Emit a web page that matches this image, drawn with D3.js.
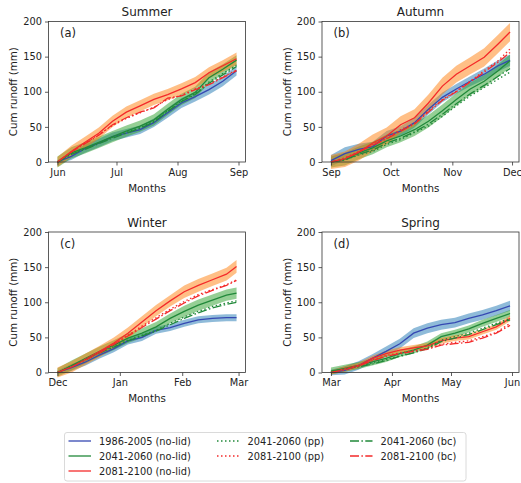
<!DOCTYPE html>
<html>
<head>
<meta charset="utf-8">
<script src="https://d3js.org/d3.v7.min.js"></script>
<style>
body { margin: 0; background: #fff; }
svg { font-family: "DejaVu Sans", sans-serif; }
</style>
</head>
<body>
<svg id="drawing_region" width="521" height="483"></svg>
<script>
// ---- data (cum runoff in mm at sample days) ----
const seasons = ['Summer', 'Autumn', 'Winter', 'Spring'];
const panelLetters = ['(a)', '(b)', '(c)', '(d)'];
const seasonStarts = ['2001-06-01', '2001-09-01', '2001-12-01', '2002-03-01'];
const seriesNames = ['1986-2005 (no-lid)', '2041-2060 (no-lid)', '2081-2100 (no-lid)',
                     '2041-2060 (pp)', '2081-2100 (pp)', '2041-2060 (bc)', '2081-2100 (bc)'];
const yTicks = [0, 50, 100, 150, 200];

const daysSummer = [0, 7, 14, 21, 28, 35, 42, 49, 56, 63, 70, 77, 84, 91];
const daysAutumn = [0, 7, 14, 21, 28, 35, 42, 49, 56, 63, 70, 77, 84, 90];
const daysWinter = [0, 7, 14, 21, 28, 35, 42, 49, 56, 63, 70, 77, 84, 89];
const daysSpring = [0, 7, 14, 21, 28, 35, 42, 49, 56, 63, 70, 77, 84, 91];

// Summer
const sumHist      = [0, 8, 19, 27, 36, 41, 46, 56, 70, 84, 93, 103, 115, 130];
const sumHistSd    = [3, 5, 6, 6, 6, 6, 6, 6, 7, 7, 7, 7, 7, 7];
const sumMid       = [0, 13, 20, 28, 36, 44, 51, 60, 75, 89, 99, 120, 132, 145];
const sumMidSd     = [8, 8, 8, 8, 8, 8, 8, 8, 8, 8, 8, 8, 7, 7];
const sumEnd       = [0, 15, 28, 41, 58, 71, 80, 89, 96, 104, 113, 127, 137, 147];
const sumEndSd     = [7, 8, 8, 8, 8, 8, 8, 8, 8, 8, 8, 8, 8, 9];
const sumMidPp     = [0, 12, 19, 27, 35, 42, 49, 58, 73, 87, 97, 114, 126, 138];
const sumEndPp     = [0, 14, 27, 39, 52, 62, 70, 78, 89, 95, 104, 111, 121, 131];
const sumMidBc     = [0, 11, 18, 26, 34, 41, 48, 57, 72, 86, 96, 112, 124, 136];
const sumEndBc     = [0, 14, 26, 38, 53, 63, 71, 77, 91, 94, 103, 110, 120, 130];

// Autumn
const autHist      = [2, 12, 18, 22, 37, 44, 56, 75, 92, 104, 115, 125, 137, 145];
const autHistSd    = [8, 9, 8, 7, 7, 7, 7, 7, 7, 7, 7, 8, 8, 8];
const autMid       = [0, 4, 13, 20, 30, 37, 46, 58, 73, 89, 104, 115, 130, 144];
const autMidSd     = [8, 9, 9, 9, 9, 9, 9, 9, 9, 9, 9, 9, 9, 9];
const autEnd       = [0, 4, 14, 27, 37, 53, 63, 84, 108, 125, 137, 149, 168, 185];
const autEndSd     = [10, 11, 12, 12, 12, 12, 12, 12, 12, 12, 12, 13, 13, 13];
const autMidPp     = [0, 3, 10, 15, 25, 32, 42, 51, 65, 80, 94, 106, 118, 128];
const autEndPp     = [0, 6, 15, 25, 34, 46, 55, 73, 89, 101, 115, 130, 144, 161];
const autMidBc     = [0, 3, 11, 17, 27, 34, 43, 54, 68, 83, 97, 109, 122, 133];
const autEndBc     = [0, 5, 14, 24, 33, 44, 54, 71, 88, 100, 114, 128, 142, 156];

// Winter
const winHist      = [0, 7, 15, 25, 34, 45, 50, 60, 64, 70, 75, 77, 78, 78];
const winHistSd    = [3, 5, 5, 5, 5, 5, 5, 5, 5, 5, 5, 5, 5, 5];
const winMid       = [0, 10, 20, 30, 39, 49, 56, 65, 77, 87, 96, 103, 110, 113];
const winMidSd     = [6, 7, 7, 7, 7, 7, 7, 7, 7, 8, 8, 8, 8, 8];
const winEnd       = [0, 8, 19, 30, 42, 56, 72, 88, 102, 115, 124, 132, 140, 151];
const winEndSd     = [7, 8, 8, 8, 8, 8, 8, 8, 8, 9, 9, 9, 9, 9];
const winMidPp     = [0, 9, 19, 28, 37, 46, 53, 60, 70, 79, 87, 94, 99, 102];
const winEndPp     = [0, 8, 18, 29, 40, 53, 66, 78, 90, 101, 111, 118, 125, 132];
const winMidBc     = [0, 9, 18, 28, 36, 45, 52, 59, 68, 77, 85, 92, 97, 100];
const winEndBc     = [0, 8, 18, 28, 40, 52, 64, 76, 88, 99, 109, 117, 124, 131];

// Spring
const sprHist      = [0, 3, 10, 20, 30, 41, 56, 63, 68, 71, 77, 82, 88, 95];
const sprHistSd    = [4, 6, 6, 6, 7, 7, 7, 7, 7, 7, 7, 7, 7, 7];
const sprMid       = [2, 6, 10, 15, 20, 27, 32, 39, 51, 56, 62, 70, 77, 84];
const sprMidSd     = [5, 5, 5, 5, 5, 5, 5, 5, 5, 5, 5, 5, 5, 5];
const sprEnd       = [0, 5, 10, 20, 27, 32, 35, 38, 45, 49, 51, 58, 65, 77];
const sprEndSd     = [3, 4, 4, 4, 4, 4, 4, 4, 4, 4, 4, 4, 4, 4];
const sprMidPp     = [1, 5, 9, 13, 18, 24, 29, 35, 46, 51, 56, 63, 70, 77];
const sprEndPp     = [0, 4, 9, 18, 24, 28, 31, 34, 40, 43, 45, 51, 57, 70];
const sprMidBc     = [1, 5, 8, 12, 17, 23, 28, 34, 44, 49, 54, 61, 68, 75];
const sprEndBc     = [0, 4, 9, 17, 23, 27, 30, 33, 39, 41, 43, 49, 56, 67];

// ---- styles ----
const lineColors = ['#3548b2', '#21893a', '#f42a2a', '#21893a', '#f42a2a', '#21893a', '#f42a2a'];
const lineDash   = [null, null, null, '1.5,2.5', '1.5,2.5', '9,2.4,1.5,2.4', '9,2.4,1.5,2.4'];
const bandColors = ['#1f77b4', '#2ca02c', '#ff7f0e'];

const panelData = [
    { days: daysSummer, lines: [sumHist, sumMid, sumEnd, sumMidPp, sumEndPp, sumMidBc, sumEndBc], sd: [sumHistSd, sumMidSd, sumEndSd] },
    { days: daysAutumn, lines: [autHist, autMid, autEnd, autMidPp, autEndPp, autMidBc, autEndBc], sd: [autHistSd, autMidSd, autEndSd] },
    { days: daysWinter, lines: [winHist, winMid, winEnd, winMidPp, winEndPp, winMidBc, winEndBc], sd: [winHistSd, winMidSd, winEndSd] },
    { days: daysSpring, lines: [sprHist, sprMid, sprEnd, sprMidPp, sprEndPp, sprMidBc, sprEndBc], sd: [sprHistSd, sprMidSd, sprEndSd] }
];

const panelPos = [ {left: 48.5, top: 21.5}, {left: 322, top: 21.5}, {left: 48.5, top: 232}, {left: 322, top: 232} ];

class SeasonPanel {

    constructor( config, data ) {
        this.config = {
            left: config.left,
            top: config.top,
            width: config.width || 197,
            height: config.height || 140.5
        };
        this.data = data;
        this.init();
    }

    init() {
        let self = this;
        self.chart = d3.select('#drawing_region').append('g')
            .attr('transform', `translate(${self.config.left}, ${self.config.top})`);

        const start = new Date(self.data.start + 'T00:00:00Z');
        const last = d3.utcDay.offset(start, d3.max(self.data.days));
        const pad = (last - start) * 0.05;
        self.dayToDate = d => d3.utcDay.offset(start, d);

        self.xscale = d3.scaleUtc()
            .domain([new Date(+start - pad), new Date(+last + pad)])
            .range([0, self.config.width]);
        self.yscale = d3.scaleLinear()
            .domain([0, 200])
            .range([self.config.height, 0]);

        self.xaxis = d3.axisBottom(self.xscale)
            .ticks(d3.utcMonth.every(1))
            .tickFormat(d3.utcFormat('%b'))
            .tickSize(3.5).tickPadding(3.5).tickSizeOuter(0);
        self.yaxis = d3.axisLeft(self.yscale)
            .tickValues(yTicks)
            .tickSize(3.5).tickPadding(3).tickSizeOuter(0);
    }

    render() {
        let self = this;
        const w = self.config.width, h = self.config.height;
        const days = self.data.days;

        // shaded ranges for the no-lid runs
        self.data.sd.forEach((sd, i) => {
            const mean = self.data.lines[i];
            const area = d3.area()
                .x((d, j) => self.xscale(self.dayToDate(d)))
                .y0((d, j) => self.yscale(mean[j] - sd[j]))
                .y1((d, j) => self.yscale(mean[j] + sd[j]));
            self.chart.append('path')
                .datum(days)
                .attr('d', area)
                .attr('fill', bandColors[i])
                .attr('fill-opacity', 0.5);
        });

        // lines
        self.data.lines.forEach((vals, i) => {
            const line = d3.line()
                .x((d, j) => self.xscale(self.dayToDate(days[j])))
                .y(d => self.yscale(d));
            self.chart.append('path')
                .datum(vals)
                .attr('d', line)
                .attr('fill', 'none')
                .attr('stroke', lineColors[i])
                .attr('stroke-width', 1.3)
                .attr('stroke-dasharray', lineDash[i]);
        });

        // axes
        const gx = self.chart.append('g')
            .attr('transform', `translate(0, ${h})`)
            .call(self.xaxis);
        const gy = self.chart.append('g').call(self.yaxis);
        [gx, gy].forEach(g => {
            g.select('.domain').remove();
            g.selectAll('text').attr('font-size', '9.8px').attr('fill', '#222').attr('font-family', 'DejaVu Sans');
            g.selectAll('line').attr('stroke', '#333').attr('stroke-width', 0.8);
        });

        self.chart.append('rect')
            .attr('width', w).attr('height', h)
            .attr('fill', 'none').attr('stroke', '#333').attr('stroke-width', 0.8);

        self.chart.append('text')
            .attr('x', w / 2).attr('y', -5.5)
            .attr('text-anchor', 'middle')
            .attr('font-size', '12px').attr('fill', '#222')
            .text(self.data.season);

        self.chart.append('text')
            .attr('x', 11.5).attr('y', 15.5)
            .attr('font-size', '11.5px').attr('fill', '#222')
            .text(self.data.letter);

        self.chart.append('text')
            .attr('x', w / 2).attr('y', h + 29.5)
            .attr('text-anchor', 'middle')
            .attr('font-size', '10.3px').attr('fill', '#222')
            .text('Months');

        self.chart.append('text')
            .attr('transform', `translate(-31.5, ${h / 2}) rotate(-90)`)
            .attr('text-anchor', 'middle')
            .attr('font-size', '10.3px').attr('fill', '#222')
            .text('Cum runoff (mm)');
    }
}

seasons.forEach((s, i) => {
    let panel = new SeasonPanel(panelPos[i], {
        season: s,
        letter: panelLetters[i],
        start: seasonStarts[i],
        days: panelData[i].days,
        lines: panelData[i].lines,
        sd: panelData[i].sd
    });
    panel.render();
});

// legend
const svg = d3.select('#drawing_region');
const legend = svg.append('g');
legend.append('rect')
    .attr('x', 64.5).attr('y', 432.5)
    .attr('width', 401.5).attr('height', 48.5)
    .attr('rx', 2.5)
    .attr('fill', '#fff').attr('stroke', '#d0d0d0').attr('stroke-width', 0.8);

const legendCol = [0, 0, 0, 1, 1, 2, 2];
const legendRow = [0, 1, 2, 0, 1, 0, 1];
const colX = [68.5, 217, 350];
const rowY = [441, 456, 471];
seriesNames.forEach((name, i) => {
    const x = colX[legendCol[i]], y = rowY[legendRow[i]];
    legend.append('line')
        .attr('x1', x).attr('x2', x + 22.5)
        .attr('y1', y).attr('y2', y)
        .attr('stroke', lineColors[i]).attr('stroke-width', 1.3)
        .attr('stroke-dasharray', lineDash[i]);
    legend.append('text')
        .attr('x', x + 30.5).attr('y', y + 3.5)
        .attr('font-size', '9.8px').attr('fill', '#222')
        .text(name);
});
</script>
</body>
</html>
